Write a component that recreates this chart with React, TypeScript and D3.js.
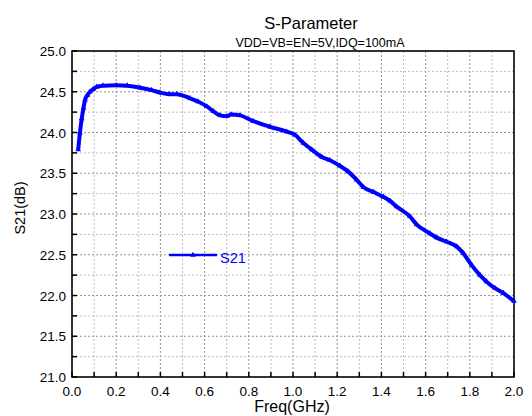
import React, { useEffect, useRef } from 'react';
import * as d3 from 'd3';

// S21 sweep
const freqGHz = [
  0.028, 0.036, 0.044, 0.052, 0.059, 0.07, 0.081, 0.095, 0.112, 0.14, 0.2, 0.25,
  0.308, 0.36, 0.398, 0.44, 0.474, 0.534, 0.57, 0.61, 0.64, 0.67, 0.7, 0.72,
  0.76, 0.82, 0.896, 0.971, 1.009, 1.047, 1.085, 1.13, 1.167, 1.213, 1.25,
  1.288, 1.318, 1.364, 1.409, 1.439, 1.469, 1.529, 1.56, 1.62, 1.65, 1.695,
  1.741, 1.77, 1.809, 1.846, 1.876, 1.914, 1.952, 2.0,
];
const s21dB = [
  23.79, 24.0, 24.17, 24.3, 24.4, 24.46, 24.5, 24.53, 24.56, 24.575, 24.58,
  24.575, 24.55, 24.52, 24.49, 24.47, 24.47, 24.42, 24.38, 24.32, 24.26, 24.21,
  24.2, 24.22, 24.21, 24.14, 24.07, 24.01, 23.97, 23.87, 23.79, 23.7, 23.66,
  23.59, 23.52, 23.42, 23.33, 23.27, 23.21, 23.16, 23.09, 22.97, 22.87, 22.76,
  22.71, 22.66, 22.6, 22.52, 22.37, 22.25, 22.17, 22.09, 22.03, 21.93,
];
const xTicks = [0, 0.2, 0.4, 0.6, 0.8, 1.0, 1.2, 1.4, 1.6, 1.8, 2.0];
const xMinor = [0.1, 0.3, 0.5, 0.7, 0.9, 1.1, 1.3, 1.5, 1.7, 1.9];
const yTicks = [21.0, 21.5, 22.0, 22.5, 23.0, 23.5, 24.0, 24.5, 25.0];
const yMinor = [21.25, 21.75, 22.25, 22.75, 23.25, 23.75, 24.25, 24.75];

const title = 'S-Parameter';
const subtitle = 'VDD=VB=EN=5V,IDQ=100mA';
const seriesName = 'S21';

const W = 532;
const H = 416;
const margin = { left: 72, right: 18, top: 51, bottom: 39 };
const font = '"Liberation Sans", Arial, sans-serif';
const blue = '#0000ff';

const App: React.FC = () => {
  const svgRef = useRef<SVGSVGElement>(null);

  useEffect(() => {
    if (!svgRef.current) return;
    const svg = d3.select(svgRef.current);
    svg.selectAll('*').remove();

    const x = d3.scaleLinear().domain([0, 2]).range([margin.left, W - margin.right]);
    const y = d3.scaleLinear().domain([21, 25]).range([H - margin.bottom, margin.top]);
    const [x0, x1] = x.range();
    const [y0, y1] = y.range();

    // grid
    const grid = svg.append('g');
    const gridLine = (vertical: boolean, v: number, major: boolean) => {
      const l = grid.append('line')
        .attr('stroke', major ? '#939393' : '#bdbdbd')
        .attr('stroke-width', 1)
        .attr('stroke-dasharray', '2,2');
      if (vertical) l.attr('x1', x(v)).attr('x2', x(v)).attr('y1', y0).attr('y2', y1);
      else l.attr('x1', x0).attr('x2', x1).attr('y1', y(v)).attr('y2', y(v));
    };
    xTicks.slice(1, -1).forEach(v => gridLine(true, v, true));
    xMinor.forEach(v => gridLine(true, v, false));
    yTicks.slice(1, -1).forEach(v => gridLine(false, v, true));
    yMinor.forEach(v => gridLine(false, v, false));

    // frame
    svg.append('rect')
      .attr('x', x0).attr('y', y1)
      .attr('width', x1 - x0).attr('height', y0 - y1)
      .attr('fill', 'none').attr('stroke', '#000').attr('stroke-width', 1.6);

    // inward ticks
    [...xTicks, ...xMinor].forEach(v => {
      svg.append('line')
        .attr('x1', x(v)).attr('x2', x(v))
        .attr('y1', y0).attr('y2', y0 - 5)
        .attr('stroke', '#000').attr('stroke-width', 1.5);
    });
    [...yTicks, ...yMinor].forEach(v => {
      svg.append('line')
        .attr('x1', x0).attr('x2', x0 + 5)
        .attr('y1', y(v)).attr('y2', y(v))
        .attr('stroke', '#000').attr('stroke-width', 1.5);
    });

    // tick labels
    xTicks.forEach(v => {
      svg.append('text')
        .attr('x', x(v)).attr('y', y0 + 19)
        .attr('text-anchor', 'middle')
        .attr('font-family', font).attr('font-size', 13.5)
        .text(d3.format('.1f')(v));
    });
    yTicks.forEach(v => {
      svg.append('text')
        .attr('x', x0 - 6).attr('y', y(v) + 5)
        .attr('text-anchor', 'end')
        .attr('font-family', font).attr('font-size', 13.5)
        .text(d3.format('.1f')(v));
    });

    // axis titles
    svg.append('text')
      .attr('x', 292).attr('y', 412)
      .attr('text-anchor', 'middle')
      .attr('font-family', font).attr('font-size', 16)
      .text('Freq(GHz)');
    svg.append('text')
      .attr('transform', 'translate(25,208) rotate(-90)')
      .attr('text-anchor', 'middle')
      .attr('font-family', font).attr('font-size', 14.5)
      .text('S21(dB)');

    // titles
    svg.append('text')
      .attr('x', 311).attr('y', 29)
      .attr('text-anchor', 'middle')
      .attr('font-family', font).attr('font-size', 16.5)
      .text(title);
    svg.append('text')
      .attr('x', 320).attr('y', 47)
      .attr('text-anchor', 'middle')
      .attr('font-family', font).attr('font-size', 12.5)
      .text(subtitle);

    // data
    const pts: [number, number][] = freqGHz.map((f, i) => [x(f), y(s21dB[i])]);
    const line = d3.line<[number, number]>()
      .x(d => d[0]).y(d => d[1])
      .curve(d3.curveMonotoneX);
    svg.append('path')
      .datum(pts)
      .attr('d', line)
      .attr('fill', 'none')
      .attr('stroke', blue)
      .attr('stroke-width', 4)
      .attr('stroke-linejoin', 'round');

    const tri = d3.symbol().type(d3.symbolTriangle).size(14);
    pts.forEach(p => {
      svg.append('path')
        .attr('d', tri())
        .attr('transform', `translate(${p[0]},${p[1]})`)
        .attr('fill', blue);
    });

    // legend
    svg.append('line')
      .attr('x1', 169).attr('x2', 217)
      .attr('y1', 255).attr('y2', 255)
      .attr('stroke', blue).attr('stroke-width', 2.5);
    svg.append('path')
      .attr('d', tri())
      .attr('transform', 'translate(193,255)')
      .attr('fill', blue);
    svg.append('text')
      .attr('x', 220).attr('y', 263)
      .attr('font-family', font).attr('font-size', 14.5)
      .attr('fill', blue)
      .text(seriesName);
  }, []);

  return (
    <svg
      ref={svgRef}
      width={W}
      height={H}
      style={{ position: 'absolute', left: 0, top: 0, background: '#fff' }}
    />
  );
};

export default App;
